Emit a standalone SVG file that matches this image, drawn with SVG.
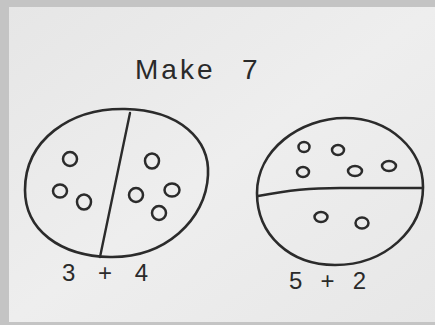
<svg xmlns="http://www.w3.org/2000/svg" width="435" height="325" viewBox="0 0 435 325">
<defs>
<style>
.outline{fill:none;stroke:#2b2b2b;stroke-width:2.6;stroke-linecap:round;stroke-linejoin:round}
.div{fill:none;stroke:#2b2b2b;stroke-width:2.4;stroke-linecap:round}
.dot{fill:none;stroke:#2b2b2b;stroke-width:2.5}
.t{font-family:"Liberation Sans",Arial,sans-serif;fill:#2a2a2a}
</style>
<linearGradient id="paper" x1="0" y1="0" x2="1" y2="1">
<stop offset="0" stop-color="#e6e6e6"/>
<stop offset="0.5" stop-color="#eeeeee"/>
<stop offset="1" stop-color="#e7e7e7"/>
</linearGradient>
</defs>
<rect x="0" y="0" width="435" height="325" fill="#c4c4c4"/>
<rect x="9" y="7" width="426" height="315" fill="url(#paper)"/>
<g id="title"><text class="t" x="135" y="79" font-size="28" letter-spacing="3"><tspan>Make </tspan><tspan x="242">7</tspan></text></g>
<g id="left-circle">
<path class="outline" d="M25,190 C25,140 70,108 125,109 C180,110 210,140 208,175 C206,220 165,258 110,257 C60,256 25,230 25,190 Z"/>
<ellipse class="dot" cx="70" cy="159" rx="7" ry="7"/>
<ellipse class="dot" cx="60" cy="191" rx="7" ry="6.5"/>
<ellipse class="dot" cx="84" cy="202" rx="7" ry="7.5"/>
<ellipse class="dot" cx="152" cy="161" rx="7" ry="7.5"/>
<ellipse class="dot" cx="136" cy="195" rx="7" ry="7"/>
<ellipse class="dot" cx="172" cy="190" rx="7.5" ry="6.5"/>
<ellipse class="dot" cx="159" cy="213" rx="7" ry="7"/>
<text class="t" x="62" y="281" font-size="24" textLength="86" lengthAdjust="spacing">3 + 4</text>
</g>
<g id="right-circle">
<path class="outline" d="M257,193 C257,150 300,118 345,118 C390,118 423,150 423,187 C423,230 385,265 335,265 C290,265 257,235 257,193 Z"/>
<ellipse class="dot" cx="304" cy="147" rx="5.5" ry="5"/>
<ellipse class="dot" cx="338" cy="150" rx="6" ry="5"/>
<ellipse class="dot" cx="303" cy="172" rx="6" ry="5"/>
<ellipse class="dot" cx="355" cy="171" rx="7" ry="5"/>
<ellipse class="dot" cx="389" cy="166" rx="7" ry="5"/>
<ellipse class="dot" cx="321" cy="217" rx="6.5" ry="5"/>
<ellipse class="dot" cx="362" cy="223" rx="6.5" ry="5.5"/>
<text class="t" x="289" y="289" font-size="24" textLength="77" lengthAdjust="spacing">5 + 2</text>
</g>
<g id="connectors">
<path class="div" d="M130,113 L100,257"/>
<path class="div" d="M258,196 C290,190 310,188 340,188 L422,188"/>
</g>
</svg>
